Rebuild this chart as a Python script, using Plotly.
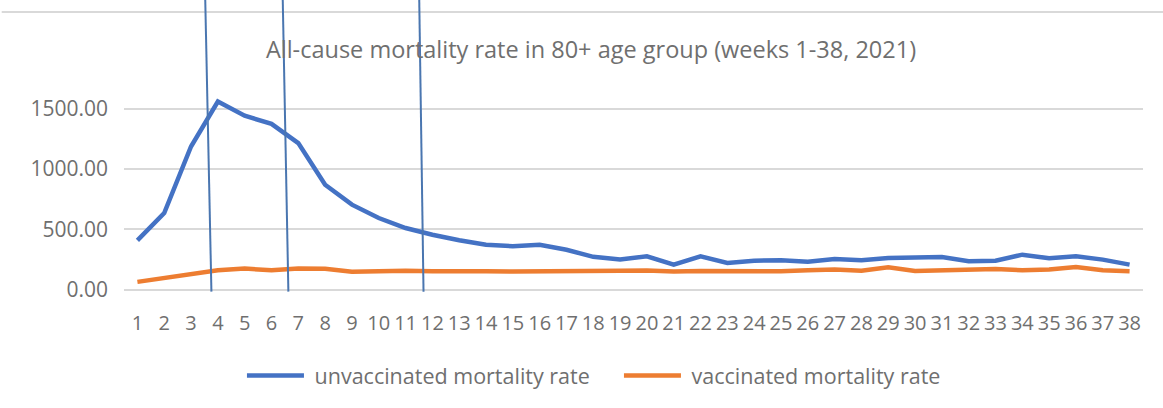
import plotly.graph_objects as go

weeks = [str(i) for i in range(1, 39)]
unvaccinated = [409, 636, 1188, 1561, 1443, 1376, 1216, 870, 705, 594,
                511, 455, 410, 373, 360, 372, 331, 272, 249, 276,
                207, 276, 221, 240, 243, 232, 254, 243, 262, 262,
                270, 235, 240, 290, 260, 276, 249, 207]
vaccinated = [64, 95, 120, 160, 175, 160, 175, 172, 148, 157,
              157, 152, 155, 152, 150, 154, 152, 155, 157, 158,
              150, 155, 152, 150, 152, 160, 166, 157, 185, 155,
              160, 166, 171, 160, 166, 188, 160, 152]
series_names = ["unvaccinated mortality rate", "vaccinated mortality rate"]
# hand-drawn marker lines (category position at top and bottom)
mark_top = [3.53, 6.42, 11.51]
mark_bottom = [3.76, 6.63, 11.67]
mark_y_top = 2404
mark_y_bottom = -17

title = "All-cause mortality rate in 80+ age group (weeks 1-38, 2021)"
ytickvals = [0, 500, 1000, 1500]
yticktext = ["0.00", "500.00", "1000.00", "1500.00"]

FONT = "Open Sans"
GRAY = "#6f6f6f"
NBSP = "\u00a0"

fig = go.Figure()
xnum = list(range(1, 39))
fig.add_trace(go.Scatter(x=xnum, y=unvaccinated, mode="lines",
                         name=NBSP + series_names[0],
                         line=dict(color="#4472C4", width=4.5)))
fig.add_trace(go.Scatter(x=xnum, y=vaccinated, mode="lines",
                         name=NBSP + series_names[1],
                         line=dict(color="#ED7D31", width=4.5)))

for xt, xb in zip(mark_top, mark_bottom):
    fig.add_shape(type="line", xref="x", yref="y", x0=xt, x1=xb,
                  y0=mark_y_top, y1=mark_y_bottom,
                  line=dict(color="#4a76b0", width=2))

# chart-area top border
fig.add_shape(type="line", xref="paper", yref="paper", x0=-0.12, x1=1.02,
              y0=1 - 12 / 292.4, y1=1 - 12 / 292.4,
              line=dict(color="#d9d9d9", width=2), layer="below")

fig.update_layout(
    width=1163, height=408,
    margin=dict(l=124, r=20, t=0, b=116),
    paper_bgcolor="white", plot_bgcolor="white",
    font=dict(family=FONT, color=GRAY, size=20),
    title=dict(text=title, x=591 / 1163, xref="container", xanchor="center",
               y=1 - 50 / 408, yref="container", yanchor="middle",
               font=dict(family=FONT, size=23.5, color=GRAY)),
    showlegend=True,
    legend=dict(orientation="h", x=(242 - 124) / 1019.4, xanchor="left",
                y=(292.4 - 376) / 292.4, yanchor="middle",
                itemwidth=57, entrywidth=305, entrywidthmode="pixels",
                font=dict(family=FONT, size=21.5, color=GRAY),
                bgcolor="rgba(0,0,0,0)"),
    xaxis=dict(range=[0.5, 38.5], tickvals=xnum, ticktext=weeks,
               showgrid=False, zeroline=False, showline=False,
               ticks="", ticklabelstandoff=17,
               tickfont=dict(family=FONT, size=20, color=GRAY)),
    yaxis=dict(range=[-20, 2404], tickvals=ytickvals, ticktext=yticktext,
               showgrid=True, gridcolor="#d9d9d9", gridwidth=1.5,
               zeroline=False, showline=False, ticks="", ticklabelstandoff=15,
               tickfont=dict(family=FONT, size=21, color=GRAY)),
)

fig.write_html("out.html", config={"displayModeBar": False},
               post_script="document.body.style.margin='0';")
